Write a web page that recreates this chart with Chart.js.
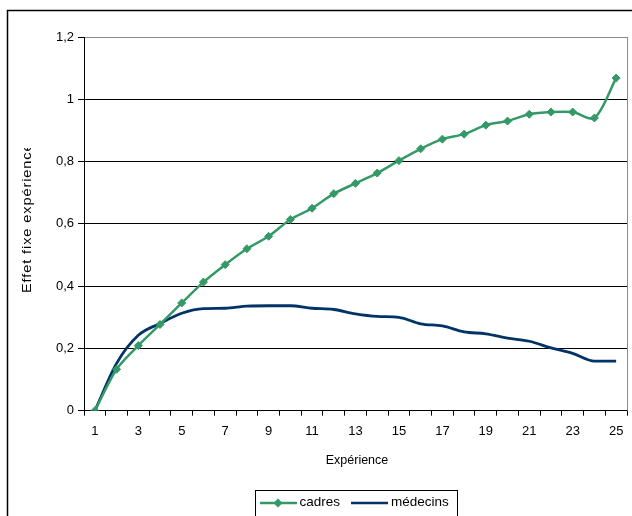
<!DOCTYPE html>
<html>
<head>
<meta charset="utf-8">
<script src="https://cdn.jsdelivr.net/npm/chart.js@4"></script>
<style>
  html, body { margin: 0; padding: 0; background: #fff; }
  #wrap { width: 632px; height: 516px; position: relative; overflow: hidden; }
</style>
</head>
<body>
<div id="wrap"><canvas id="c" width="632" height="516"></canvas></div>
<script>
// Years of experience (categories) and estimated fixed effects per group
const experience = ['1','2','3','4','5','6','7','8','9','10','11','12','13',
                    '14','15','16','17','18','19','20','21','22','23','24','25'];
const cadres = [0, 0.133, 0.209, 0.277, 0.346, 0.413, 0.469, 0.52, 0.56, 0.614,
                0.65, 0.697, 0.73, 0.763, 0.803, 0.841, 0.872, 0.888, 0.917, 0.93,
                0.952, 0.959, 0.959, 0.94, 1.068];
const medecins = [0, 0.152, 0.242, 0.28, 0.313, 0.328, 0.329, 0.336, 0.337, 0.337,
                  0.329, 0.325, 0.311, 0.303, 0.3, 0.279, 0.272, 0.253, 0.247, 0.233,
                  0.223, 0.202, 0.184, 0.159, 0.159];
// Axis tick labels
const xTickLabels = ['1','3','5','7','9','11','13','15','17','19','21','23','25'];
const yTickValues = [0, 0.2, 0.4, 0.6, 0.8, 1, 1.2];

const FONT = '"Liberation Sans", Arial, sans-serif';
const GREEN = '#339966';
const NAVY = '#003366';

const decorations = {
  id: 'decorations',
  afterDraw(chart) {
    const ctx = chart.ctx;
    const area = chart.chartArea;
    ctx.save();

    // outer frame
    ctx.strokeStyle = '#000';
    ctx.lineWidth = 1.5;
    ctx.strokeRect(7.5, 10.5, 700, 600);

    // plot area right edge
    ctx.strokeStyle = '#8c8c8c';
    ctx.lineWidth = 1;
    ctx.beginPath();
    ctx.moveTo(Math.round(area.right) + 0.5, area.top);
    ctx.lineTo(Math.round(area.right) + 0.5, area.bottom);
    ctx.stroke();

    // y-axis title (rotated, its box clips the last letter)
    ctx.save();
    ctx.beginPath();
    ctx.rect(0, 148, 70, 300);
    ctx.clip();
    ctx.translate(31, 293);
    ctx.rotate(-Math.PI / 2);
    ctx.scale(1.12, 1);
    ctx.fillStyle = '#000';
    ctx.font = '13px ' + FONT;
    ctx.letterSpacing = '0.8px';
    ctx.textAlign = 'left';
    ctx.textBaseline = 'alphabetic';
    ctx.fillText('Effet fixe expérience', 0, 0);
    ctx.restore();

    // x-axis title
    ctx.fillStyle = '#000';
    ctx.font = '12.5px ' + FONT;
    ctx.textAlign = 'center';
    ctx.textBaseline = 'alphabetic';
    ctx.fillText('Expérience', 357, 463.5);

    // legend
    ctx.strokeStyle = '#000';
    ctx.lineWidth = 1;
    ctx.strokeRect(255.5, 490.5, 202, 40);
    const ly = 503;
    const ds = chart.data.datasets;
    // cadres sample
    ctx.strokeStyle = ds[0].borderColor;
    ctx.lineWidth = 2.5;
    ctx.beginPath(); ctx.moveTo(260, ly); ctx.lineTo(297, ly); ctx.stroke();
    ctx.fillStyle = ds[0].pointBackgroundColor;
    ctx.beginPath();
    ctx.moveTo(278, ly - 4.5); ctx.lineTo(282.5, ly); ctx.lineTo(278, ly + 4.5); ctx.lineTo(273.5, ly);
    ctx.closePath(); ctx.fill();
    // médecins sample
    ctx.strokeStyle = ds[1].borderColor;
    ctx.beginPath(); ctx.moveTo(351, ly); ctx.lineTo(388, ly); ctx.stroke();

    ctx.fillStyle = '#000';
    ctx.font = '13.5px ' + FONT;
    ctx.textAlign = 'left';
    ctx.textBaseline = 'middle';
    ctx.fillText(ds[0].label, 299.5, ly - 1);
    ctx.fillText(ds[1].label, 391, ly - 1);

    ctx.restore();
  }
};

new Chart(document.getElementById('c'), {
  type: 'line',
  data: {
    labels: experience,
    datasets: [
      {
        label: 'cadres',
        data: cadres,
        borderColor: GREEN,
        backgroundColor: GREEN,
        pointBackgroundColor: GREEN,
        pointBorderColor: GREEN,
        pointStyle: 'rectRot',
        pointRadius: 4,
        pointBorderWidth: 1,
        borderWidth: 2.5,
        tension: 0.3,
        fill: false
      },
      {
        label: 'médecins',
        data: medecins,
        borderColor: NAVY,
        backgroundColor: NAVY,
        pointRadius: 0,
        borderWidth: 2.8,
        cubicInterpolationMode: 'monotone',
        fill: false
      }
    ]
  },
  options: {
    responsive: false,
    animation: false,
    layout: { padding: { left: 0, top: 37, right: 3, bottom: 0 } },
    plugins: {
      legend: { display: false },
      tooltip: { enabled: false },
      title: { display: false }
    },
    scales: {
      x: {
        type: 'category',
        offset: true,
        afterFit(scale) { scale.height = 105.3; },
        grid: {
          offset: true,
          drawOnChartArea: false,
          drawTicks: true,
          tickLength: 5,
          color: '#000',
          tickColor: '#000'
        },
        border: { display: true, color: '#000', width: 1 },
        ticks: {
          autoSkip: false,
          maxRotation: 0,
          padding: 8,
          color: '#000',
          font: { family: FONT, size: 13 },
          callback(value, index) {
            const lab = this.getLabelForValue(value);
            return xTickLabels.includes(lab) ? lab : '';
          }
        }
      },
      y: {
        min: 0,
        max: 1.2,
        afterFit(scale) { scale.width = 84; },
        afterBuildTicks(scale) {
          scale.ticks = yTickValues.map(v => ({ value: v }));
        },
        grid: {
          drawTicks: true,
          tickLength: 6,
          color(ctx) {
            return ctx.tick && Math.abs(ctx.tick.value - 1.2) < 1e-6 ? '#8c8c8c' : '#000';
          },
          tickColor: '#000'
        },
        border: { display: true, color: '#000', width: 1 },
        ticks: {
          padding: 4,
          color: '#000',
          font: { family: FONT, size: 13 },
          callback(value) {
            return String(Math.round(value * 10) / 10).replace('.', ',');
          }
        }
      }
    }
  },
  plugins: [decorations]
});
</script>
</body>
</html>
